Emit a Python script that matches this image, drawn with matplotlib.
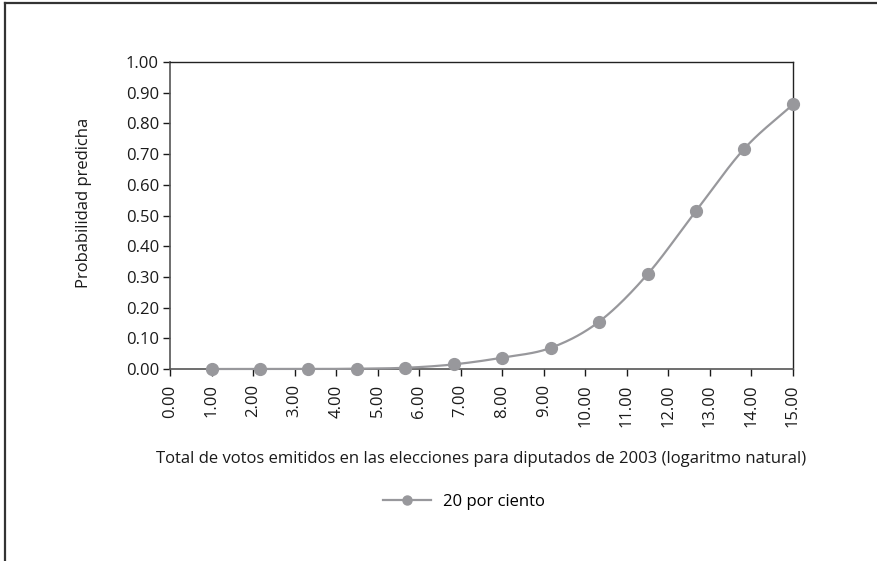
import numpy as np
import matplotlib
matplotlib.use('Agg')
import matplotlib.pyplot as plt
from matplotlib.lines import Line2D
from matplotlib.ticker import FormatStrFormatter

plt.rcParams['font.family'] = ['Open Sans', 'DejaVu Sans']

# datos
votos_log = [1.00, 2.17, 3.33, 4.50, 5.67, 6.83, 8.00, 9.17, 10.33, 11.50, 12.67, 13.83, 15.00]
prob_20 = [0.000, 0.000, 0.000, 0.001, 0.004, 0.015, 0.037, 0.069, 0.154, 0.309, 0.516, 0.718, 0.862]
serie_nombre = '20 por ciento'
x_ticks = list(range(0, 16))
y_ticks = [i / 10 for i in range(0, 11)]

gris = '#98989c'
texto = '#1a1a1a'
fs = 12


def suavizar(xs, ys, n=30):
	"""Curva suave tipo Excel (Catmull-Rom) que pasa por los puntos"""
	px = np.asarray(xs, float)
	py = np.asarray(ys, float)
	px = np.concatenate([[2 * px[0] - px[1]], px, [2 * px[-1] - px[-2]]])
	py = np.concatenate([[2 * py[0] - py[1]], py, [2 * py[-1] - py[-2]]])
	t = np.linspace(0, 1, n)
	out_x, out_y = [], []
	for i in range(1, len(px) - 2):
		for p, out in ((px, out_x), (py, out_y)):
			p0, p1, p2, p3 = p[i - 1], p[i], p[i + 1], p[i + 2]
			c1 = p1 + (p2 - p0) / 6
			c2 = p2 - (p3 - p1) / 6
			out.extend((1 - t) ** 3 * p1 + 3 * (1 - t) ** 2 * t * c1 + 3 * (1 - t) * t ** 2 * c2 + t ** 3 * p2)
	return np.array(out_x), np.array(out_y)


fig = plt.figure(figsize=(8.78, 5.61), dpi=100)
ax = fig.add_axes([170 / 878, 1 - 369 / 561, (793 - 170) / 878, (369 - 62) / 561])

sx, sy = suavizar(votos_log, prob_20)
sy = np.clip(sy, 0, None)
ax.plot(sx, sy, color=gris, lw=1.6, clip_on=False, zorder=3)
ax.plot(votos_log, prob_20, 'o', color=gris, ms=8.5, clip_on=False, zorder=4)

ax.set_xlim(0, 15)
ax.set_ylim(0, 1)
ax.set_xticks(x_ticks)
ax.set_yticks(y_ticks)
ax.xaxis.set_major_formatter(FormatStrFormatter('%.2f'))
ax.yaxis.set_major_formatter(FormatStrFormatter('%.2f'))
ax.tick_params(axis='x', rotation=90, labelsize=fs, colors=texto, length=5, width=1, direction='out', pad=6)
ax.tick_params(axis='y', labelsize=fs, colors=texto, length=5, width=1, direction='out', pad=3)
for lado in ['left', 'bottom']:
	ax.spines[lado].set_color('#555555')
	ax.spines[lado].set_linewidth(1.2)
for lado in ['top', 'right']:
	ax.spines[lado].set_color('#222222')
	ax.spines[lado].set_linewidth(1.0)

fig.text(481 / 878, 1 - 459 / 561,
	'Total de votos emitidos en las elecciones para diputados de 2003 (logaritmo natural)',
	ha='center', va='center', fontsize=fs, color=texto)
fig.text(84 / 878, 1 - 203 / 561, 'Probabilidad predicha', rotation=90,
	ha='center', va='center', fontsize=fs, color=texto)

handle = Line2D([], [], color=gris, lw=1.6, marker='o', ms=6.5)
fig.legend([handle], [serie_nombre], loc='center', bbox_to_anchor=(464 / 878, 1 - 502 / 561),
	frameon=False, fontsize=fs, handlelength=2.9, handletextpad=0.7)

# marco exterior (solo arriba e izquierda)
fig.add_artist(Line2D([5 / 878, 1], [1 - 3 / 561, 1 - 3 / 561], transform=fig.transFigure, color='#333333', lw=1.6))
fig.add_artist(Line2D([5 / 878, 5 / 878], [0, 1 - 3 / 561], transform=fig.transFigure, color='#333333', lw=1.6))

fig.savefig('out.png', dpi=100)
